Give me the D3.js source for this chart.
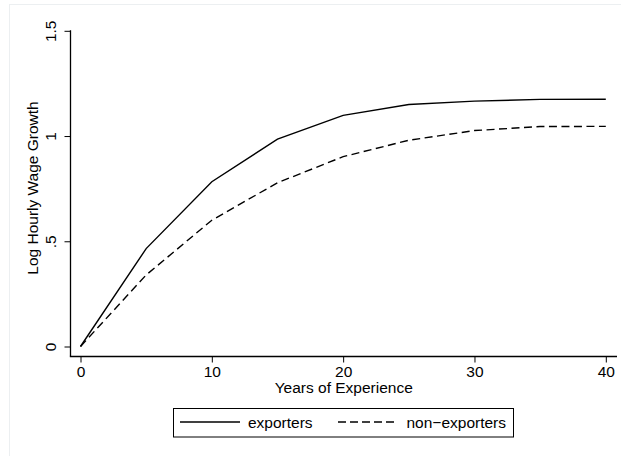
<!DOCTYPE html>
<html>
<head>
<meta charset="utf-8">
<script src="https://cdn.jsdelivr.net/npm/d3@7"></script>
<style>
  html, body { margin: 0; padding: 0; background: #fff; }
  svg { display: block; }
  text { font-family: "Liberation Sans", Arial, Helvetica, sans-serif; fill: #000; }
</style>
</head>
<body>
<svg id="chart" width="621" height="456"></svg>
<script>
// Years of experience at which the profiles are evaluated
const years = [0, 5, 10, 15, 20, 25, 30, 35, 40];
// Cumulative log hourly wage growth by firm type
const exporters    = [0, 0.465, 0.783, 0.985, 1.098, 1.150, 1.166, 1.174, 1.175];
const nonExporters = [0, 0.340, 0.600, 0.778, 0.902, 0.980, 1.026, 1.045, 1.046];
const seriesNames  = ["exporters", "non\u2212exporters"];
const xTicks = [0, 10, 20, 30, 40];
const yTicks = [0, 0.5, 1, 1.5];
const yTickLabels = ["0", ".5", "1", "1.5"];

const svg = d3.select("#chart");
const W = 621, H = 456;
const FS = 15.5;

// faint outer frame
svg.append("rect")
  .attr("x", 9.5).attr("y", 4.5)
  .attr("width", W).attr("height", H)
  .attr("fill", "#fff").attr("stroke", "#eceff1").attr("stroke-width", 1);

const x = d3.scaleLinear().domain([0, 40]).range([80.5, 605.8]);
const y = d3.scaleLinear().domain([0, 1.5]).range([346.5, 30.8]);

const plotLeft = 70.5, plotRight = 617, plotBottom = 356.5;

// y axis
const yAxis = d3.axisLeft(y).tickValues(yTicks)
  .tickFormat((d, i) => yTickLabels[i]).tickSize(6).tickSizeOuter(0).tickPadding(4);
const gy = svg.append("g").attr("transform", `translate(${plotLeft},0)`).call(yAxis);
gy.select(".domain").remove();
gy.append("line").attr("x1", 0).attr("x2", 0).attr("y1", 30.8 - 0.5).attr("y2", plotBottom)
  .attr("stroke", "#000").attr("stroke-width", 1.3);
gy.selectAll(".tick line").attr("stroke", "#000").attr("stroke-width", 1);
gy.selectAll(".tick text")
  .attr("font-size", FS)
  .attr("transform", "rotate(-90)")
  .attr("x", 0).attr("y", -15)
  .attr("dy", 0)
  .attr("text-anchor", "middle");

// x axis
const xAxis = d3.axisBottom(x).tickValues(xTicks).tickSize(6).tickSizeOuter(0).tickPadding(3);
const gx = svg.append("g").attr("transform", `translate(0,${plotBottom})`).call(xAxis);
gx.select(".domain").remove();
gx.append("line").attr("x1", plotLeft - 0.65).attr("x2", plotRight).attr("y1", 0).attr("y2", 0)
  .attr("stroke", "#000").attr("stroke-width", 1.3);
gx.selectAll(".tick line").attr("stroke", "#000").attr("stroke-width", 1);
gx.selectAll(".tick text").attr("font-size", FS);

// axis titles
svg.append("text")
  .attr("x", (plotLeft + plotRight) / 2).attr("y", 393)
  .attr("text-anchor", "middle").attr("font-size", FS)
  .text("Years of Experience");
svg.append("text")
  .attr("transform", `translate(38,188) rotate(-90)`)
  .attr("text-anchor", "middle").attr("font-size", FS)
  .text("Log Hourly Wage Growth");

// lines
const line = d3.line().x((d, i) => x(years[i])).y(d => y(d));
const styles = [null, "8,4.5"];
[exporters, nonExporters].forEach((s, k) => {
  svg.append("path").datum(s)
    .attr("d", line)
    .attr("fill", "none").attr("stroke", "#000").attr("stroke-width", 1.4)
    .attr("stroke-dasharray", styles[k]);
});

// legend
const lg = svg.append("g");
lg.append("rect").attr("x", 173.5).attr("y", 408.5).attr("width", 340).attr("height", 28.5)
  .attr("fill", "#fff").attr("stroke", "#000").attr("stroke-width", 1);
const legendItems = [
  { x1: 180, x2: 240, tx: 248, dash: null },
  { x1: 338, x2: 398, tx: 406.5, dash: "8,4" }
];
legendItems.forEach((it, k) => {
  lg.append("line").attr("x1", it.x1).attr("x2", it.x2).attr("y1", 422).attr("y2", 422)
    .attr("stroke", "#000").attr("stroke-width", 1.4).attr("stroke-dasharray", it.dash);
  lg.append("text").attr("x", it.tx).attr("y", 427.5).attr("font-size", FS)
    .text(seriesNames[k]);
});
</script>
</body>
</html>
